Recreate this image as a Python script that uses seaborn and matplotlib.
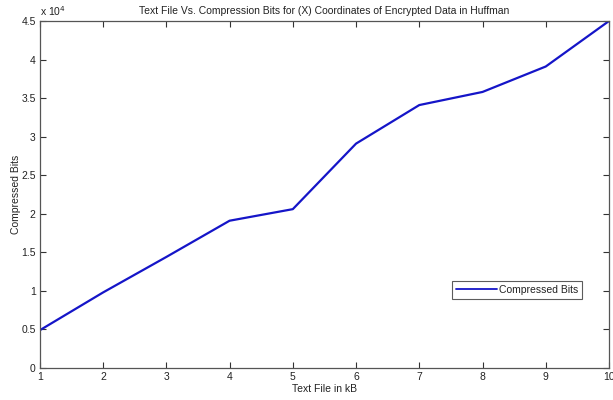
import matplotlib
matplotlib.use("Agg")
import matplotlib.pyplot as plt
import seaborn as sns
import pandas as pd
from matplotlib.ticker import FuncFormatter, MultipleLocator

text_file_kb = [1, 2, 3, 4, 5, 6, 7, 8, 9, 10]
compressed_bits = [4900, 9800, 14400, 19100, 20600, 29100, 34100, 35800, 39100, 45000]

sns.set_style("ticks")
plt.rcParams['font.family'] = ['Liberation Sans', 'DejaVu Sans']
plt.rcParams['text.color'] = '#222222'
plt.rcParams['axes.labelcolor'] = '#222222'

df = pd.DataFrame({"Text File in kB": text_file_kb, "Compressed Bits": compressed_bits})

fig = plt.figure(figsize=(6.13, 4.0), dpi=100)
ax = fig.add_axes([0.065, 0.08, 0.9285, 0.8675])
sns.lineplot(data=df, x="Text File in kB", y="Compressed Bits", ax=ax,
             color="#1515c8", linewidth=1.6, label="Compressed Bits")

ax.set_xlim(1, 10)
ax.set_ylim(0, 45000)
ax.xaxis.set_major_locator(MultipleLocator(1))
ax.yaxis.set_major_locator(MultipleLocator(5000))
ax.yaxis.set_major_formatter(FuncFormatter(lambda v, p: "%g" % (v / 1e4)))

for s in ax.spines.values():
    s.set_visible(True)
    s.set_color("#555555")
    s.set_linewidth(0.9)
ax.tick_params(direction="in", top=True, right=True, length=4, width=0.8,
               color="#333333", labelcolor="#222222", labelsize=7.5, pad=3)

ax.set_xlabel("Text File in kB", fontsize=7.5, labelpad=1)
ax.set_ylabel("Compressed Bits", fontsize=7.5, labelpad=0)
ax.set_title("Text File Vs. Compression Bits for (X) Coordinates of Encrypted Data in Huffman",
             fontsize=7.5, pad=5)
ax.text(0.0, 1.008, r"x 10$^{4}$", transform=ax.transAxes, fontsize=7.5,
        ha="left", va="bottom")

leg = ax.legend(loc="center", bbox_to_anchor=(0.838, 0.225), fontsize=7.5,
                frameon=True, fancybox=False, handlelength=4.0, borderpad=0.4,
                handletextpad=0.1)
leg.get_frame().set_edgecolor("#333333")
leg.get_frame().set_linewidth(0.8)
for line in leg.get_lines():
    line.set_linewidth(1.3)

fig.savefig("out.png", dpi=100)
